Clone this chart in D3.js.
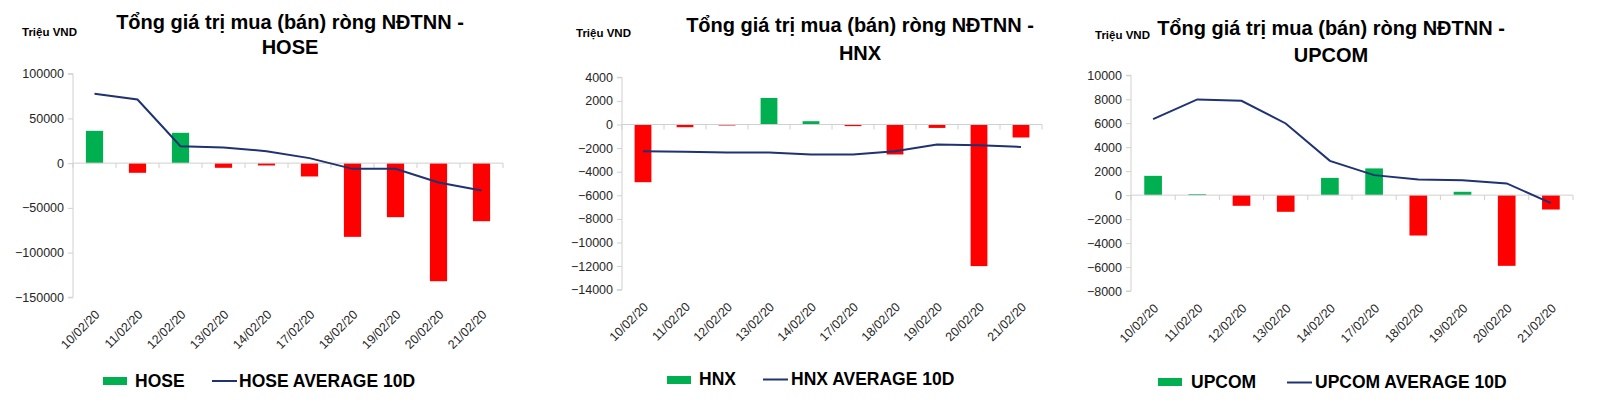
<!DOCTYPE html>
<html>
<head>
<meta charset="utf-8">
<script src="https://cdn.jsdelivr.net/npm/d3@7"></script>
<style>
  html, body { margin: 0; padding: 0; background: #fff; }
  svg { display: block; font-family: "Liberation Sans", Arial, sans-serif; }
</style>
</head>
<body>
<svg id="chart" width="1600" height="405"></svg>
<script>
// ── Data ──────────────────────────────────────────────────────────────────────
const dates = ['10/02/20', '11/02/20', '12/02/20', '13/02/20', '14/02/20',
               '17/02/20', '18/02/20', '19/02/20', '20/02/20', '21/02/20'];

const hoseNet = [36100, -10800, 33900, -5200, -2600, -14900, -82400, -60400, -132000, -64900];
const hoseAvg = [77500, 71200, 19000, 17500, 13400, 5600, -6400, -6400, -21600, -30500];
const hoseTicks = [100000, 50000, 0, -50000, -100000, -150000];

const hnxNet = [-4890, -230, -85, 2250, 280, -140, -2540, -290, -12000, -1100];
const hnxAvg = [-2260, -2300, -2370, -2370, -2540, -2540, -2260, -1700, -1750, -1900];
const hnxTicks = [4000, 2000, 0, -2000, -4000, -6000, -8000, -10000, -12000, -14000];

const upcomNet = [1610, 80, -890, -1390, 1440, 2230, -3370, 280, -5900, -1200];
const upcomAvg = [6340, 7990, 7870, 5980, 2860, 1670, 1310, 1250, 980, -670];
const upcomTicks = [10000, 8000, 6000, 4000, 2000, 0, -2000, -4000, -6000, -8000];

const titleLine1 = 'Tổng giá trị mua (bán) ròng NĐTNN -';
const unitLabel = 'Triệu VND';

// ── Layout per panel ─────────────────────────────────────────────────────────
const panels = [
  { name: 'HOSE', net: hoseNet, avg: hoseAvg, ticks: hoseTicks,
    x0: 73, x1: 503, yTop: 73.7, yBot: 297.3,
    titleX: 290, t1: 29, t2: 54, unitX: 22, unitY: 35.5,
    lg: { sx: 103, sy: 377, tx: 135, lx: 212, ly: 381, l2x: 239, by: 386.5 } },
  { name: 'HNX', net: hnxNet, avg: hnxAvg, ticks: hnxTicks,
    x0: 622, x1: 1042, yTop: 77.3, yBot: 289.7,
    titleX: 860, t1: 32, t2: 60, unitX: 576, unitY: 37,
    lg: { sx: 667, sy: 376, tx: 699, lx: 763, ly: 379.5, l2x: 791, by: 385 } },
  { name: 'UPCOM', net: upcomNet, avg: upcomAvg, ticks: upcomTicks,
    x0: 1131, x1: 1573, yTop: 75.3, yBot: 291,
    titleX: 1331, t1: 35, t2: 61.5, unitX: 1095, unitY: 39,
    lg: { sx: 1158, sy: 378, tx: 1191, lx: 1287, ly: 382.5, l2x: 1315, by: 388 } },
];

const GREEN = '#00b050', RED = '#ff0000', NAVY = '#1f3271';
const AXIS = '#d0d0d0', LABEL = '#262626';

const svg = d3.select('#chart');

panels.forEach(p => {
  const g = svg.append('g');
  const y = d3.scaleLinear()
    .domain([d3.max(p.ticks), d3.min(p.ticks)])
    .range([p.yTop, p.yBot]);
  const x = d3.scaleBand().domain(dates).range([p.x0, p.x1]);
  const bw = x.bandwidth() * 0.4;
  const cx = d => x(d) + x.bandwidth() / 2;

  // Y axis
  const yAxis = d3.axisLeft(y).tickValues(p.ticks).tickSize(5).tickPadding(4)
    .tickFormat(d3.format('d'));
  const ya = g.append('g').attr('transform', `translate(${p.x0},0)`).call(yAxis);
  ya.select('.domain').attr('stroke', AXIS).attr('d', `M-5,${p.yTop}H0V${p.yBot}H-5`);
  ya.selectAll('.tick line').attr('stroke', AXIS);
  ya.selectAll('.tick text').attr('fill', LABEL)
    .style('font-size', '12.5px').style('font-family', '"Liberation Sans", Arial, sans-serif');

  // Bars
  g.selectAll('rect.bar').data(p.net).enter().append('rect')
    .attr('class', 'bar')
    .attr('x', (v, i) => cx(dates[i]) - bw / 2)
    .attr('width', bw)
    .attr('y', v => y(Math.max(0, v)))
    .attr('height', v => Math.abs(y(v) - y(0)))
    .attr('fill', v => v >= 0 ? GREEN : RED);

  // Category axis at zero
  const y0 = y(0);
  g.append('line').attr('x1', p.x0).attr('x2', p.x1).attr('y1', y0).attr('y2', y0)
    .attr('stroke', AXIS);
  g.selectAll('line.ctick').data(d3.range(dates.length + 1)).enter().append('line')
    .attr('class', 'ctick')
    .attr('x1', i => p.x0 + i * x.step()).attr('x2', i => p.x0 + i * x.step())
    .attr('y1', y0).attr('y2', y0 + 5)
    .attr('stroke', AXIS);

  // Average line
  g.append('path').datum(p.avg)
    .attr('fill', 'none').attr('stroke', NAVY).attr('stroke-width', 2)
    .attr('d', d3.line().x((v, i) => cx(dates[i])).y(v => y(v)));

  // Date labels
  g.selectAll('text.date').data(dates).enter().append('text')
    .attr('class', 'date')
    .attr('transform', d => `translate(${cx(d) + 6},${p.yBot + 18}) rotate(-45)`)
    .attr('text-anchor', 'end')
    .attr('fill', LABEL)
    .style('font-size', '12.5px')
    .text(d => d);

  // Titles
  g.append('text').attr('x', p.titleX).attr('y', p.t1).attr('text-anchor', 'middle')
    .style('font-size', '20px').style('font-weight', 'bold').text(titleLine1);
  g.append('text').attr('x', p.titleX).attr('y', p.t2).attr('text-anchor', 'middle')
    .style('font-size', '20px').style('font-weight', 'bold').text(p.name);
  g.append('text').attr('x', p.unitX).attr('y', p.unitY)
    .style('font-size', '11.5px').style('font-weight', 'bold').text(unitLabel);

  // Legend
  const lg = p.lg;
  g.append('rect').attr('x', lg.sx).attr('y', lg.sy).attr('width', 24).attr('height', 8)
    .attr('fill', GREEN);
  g.append('text').attr('x', lg.tx).attr('y', lg.by)
    .style('font-size', '17.5px').style('font-weight', 'bold').text(p.name);
  g.append('line').attr('x1', lg.lx).attr('x2', lg.lx + 25).attr('y1', lg.ly).attr('y2', lg.ly)
    .attr('stroke', NAVY).attr('stroke-width', 2);
  g.append('text').attr('x', lg.l2x).attr('y', lg.by)
    .style('font-size', '17.5px').style('font-weight', 'bold').text(p.name + ' AVERAGE 10D');
});
</script>
</body>
</html>
